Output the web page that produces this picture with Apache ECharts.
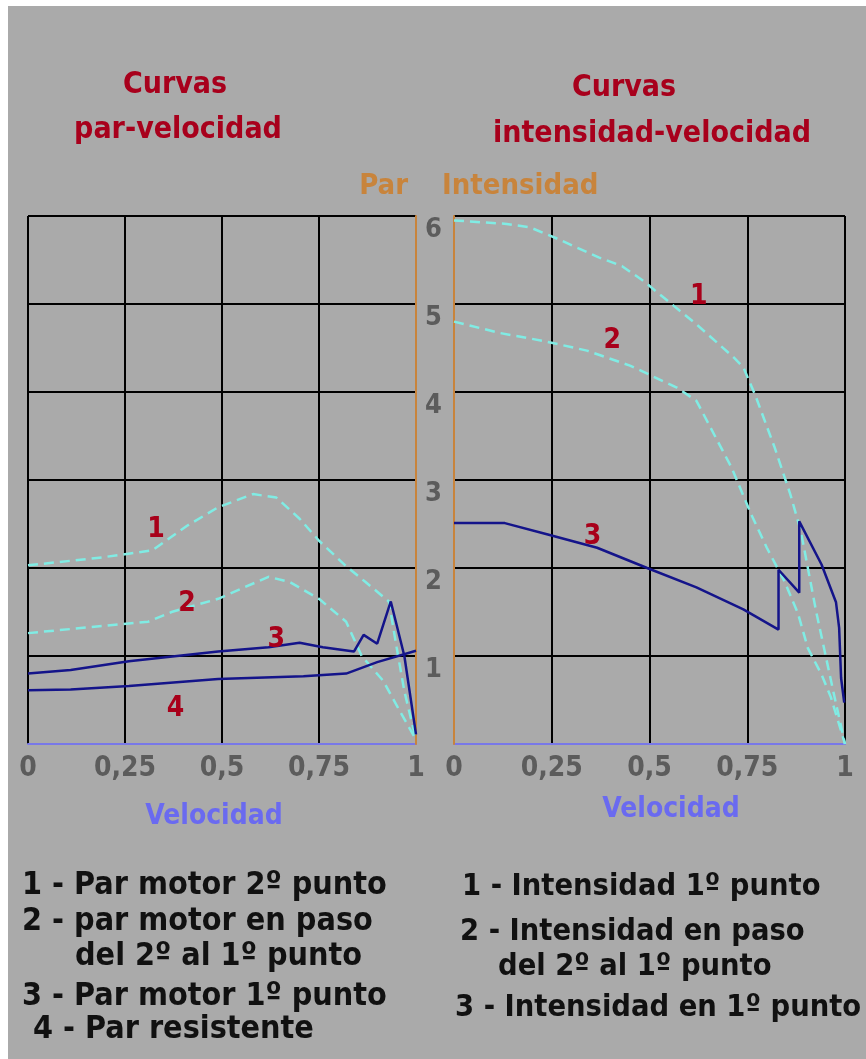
<!DOCTYPE html>
<html>
<head>
<meta charset="utf-8">
<script src="https://cdn.jsdelivr.net/npm/echarts@6/dist/echarts.min.js"></script>
<style>
html,body{margin:0;padding:0;background:#fff;}
#chart{width:866px;height:1059px;}
</style>
</head>
<body>
<div id="chart"></div>
<script>
// ---------- DATA ----------
var xTickLabels = ['0', '0,25', '0,5', '0,75', '1'];
var yTickLabels = ['', '1', '2', '3', '4', '5', '6'];

// Par - velocidad (left panel)
var par1X = [0, 0.19, 0.32, 0.41, 0.49, 0.58, 0.64, 0.70, 0.75, 0.82, 0.87, 0.93, 0.95, 0.97, 1.0];
var par1Y = [2.03, 2.12, 2.20, 2.48, 2.69, 2.84, 2.80, 2.56, 2.31, 2.02, 1.84, 1.62, 1.10, 0.60, 0.05];
var par2X = [0, 0.19, 0.31, 0.37, 0.49, 0.62, 0.675, 0.75, 0.82, 0.86, 0.915, 0.96, 1.0];
var par2Y = [1.26, 1.34, 1.39, 1.50, 1.65, 1.90, 1.84, 1.65, 1.39, 1.00, 0.72, 0.36, 0.05];
var par3X = [0, 0.11, 0.26, 0.49, 0.62, 0.70, 0.76, 0.84, 0.865, 0.90, 0.935, 0.97, 1.0];
var par3Y = [0.80, 0.84, 0.94, 1.05, 1.10, 1.15, 1.10, 1.05, 1.24, 1.14, 1.62, 1.00, 0.11];
var par4X = [0, 0.11, 0.26, 0.49, 0.71, 0.82, 0.90, 1.0];
var par4Y = [0.61, 0.62, 0.66, 0.74, 0.77, 0.80, 0.93, 1.06];

// Intensidad - velocidad (right panel)
var int1X = [0, 0.135, 0.195, 0.26, 0.37, 0.43, 0.485, 0.537, 0.62, 0.716, 0.74, 0.77, 0.82, 0.86, 0.887, 0.926, 0.97, 1.0];
var int1Y = [5.95, 5.91, 5.87, 5.75, 5.53, 5.43, 5.26, 5.07, 4.77, 4.39, 4.28, 3.97, 3.37, 2.84, 2.42, 1.51, 0.60, 0.0];
var int2X = [0, 0.118, 0.229, 0.34, 0.45, 0.57, 0.62, 0.665, 0.71, 0.76, 0.80, 0.845, 0.88, 0.905, 0.94, 0.964, 1.0];
var int2Y = [4.80, 4.67, 4.58, 4.47, 4.30, 4.05, 3.90, 3.52, 3.14, 2.61, 2.23, 1.85, 1.48, 1.09, 0.79, 0.53, 0.0];
var int3X = [0, 0.13, 0.24, 0.366, 0.494, 0.62, 0.74, 0.83, 0.83, 0.883, 0.883, 0.94, 0.977, 0.985, 0.99, 0.998];
var int3Y = [2.51, 2.51, 2.38, 2.23, 2.00, 1.78, 1.53, 1.30, 1.98, 1.72, 2.53, 2.04, 1.61, 1.32, 0.75, 0.47];

// curve number annotations [x, y, text]
var parNotes = [[0.33, 2.44, '1'], [0.41, 1.59, '2'], [0.64, 1.19, '3'], [0.38, 0.40, '4']];
var intNotes = [[0.626, 5.08, '1'], [0.405, 4.58, '2'], [0.354, 2.36, '3']];

var titlesLeft = ['Curvas', 'par-velocidad'];
var titlesRight = ['Curvas', 'intensidad-velocidad'];
var legendLeft = ['1 - Par motor 2º punto', '2 - par motor en paso', 'del 2º al 1º punto', '3 - Par motor 1º punto', '4 - Par resistente'];
var legendRight = ['1 - Intensidad 1º punto', '2 - Intensidad en paso', 'del 2º al 1º punto', '3 - Intensidad en 1º punto'];
var xName = 'Velocidad';
var yNameLeft = 'Par';
var yNameRight = 'Intensidad';

// ---------- CHART ----------
function zip(xs, ys) { return xs.map(function (x, i) { return [x, ys[i]]; }); }
var FONT = '"DejaVu Sans Condensed", "DejaVu Sans", sans-serif';
var BG = '#aaaaaa';
var CYAN = '#80ece4';
var NAVY = '#14148a';
var ORANGE = '#c8843c';
var RED = '#a8001c';
var BLUE = '#6a6af0';
var GREY = '#5c5c5c';

function xAxisCfg(gi, showMin, showMax) {
  return {
    type: 'value', gridIndex: gi, min: 0, max: 1, interval: 0.25,
    axisLine: { show: true, onZero: false, lineStyle: { color: '#7878e8', width: 2 } },
    axisTick: { show: false },
    splitLine: { show: true, showMinLine: showMin, showMaxLine: showMax, lineStyle: { color: '#000', width: 2 } },
    axisLabel: {
      margin: 11, color: GREY, fontFamily: FONT, fontWeight: 'bold', fontSize: 28,
      formatter: function (v, i) { return xTickLabels[Math.round(v / 0.25)]; }
    },
    z: 1
  };
}
function yAxisCfg(gi, pos, showLabels, name, nameAlign, namePad) {
  return {
    type: 'value', gridIndex: gi, position: pos, min: 0, max: 6, interval: 1,
    axisLine: { show: true, onZero: false, lineStyle: { color: ORANGE, width: 2 } },
    axisTick: { show: false },
    splitLine: { show: true, showMinLine: false, lineStyle: { color: '#000', width: 2 } },
    axisLabel: {
      show: showLabels, margin: 12, color: GREY, fontFamily: FONT, fontWeight: 'bold', fontSize: 27,
      verticalAlign: 'top',
      formatter: function (v) { return yTickLabels[Math.round(v)]; }
    },
    name: name, nameLocation: 'end', nameGap: 30,
    nameTextStyle: { color: ORANGE, fontFamily: FONT, fontWeight: 'bold', fontSize: 29, align: nameAlign, verticalAlign: 'middle', padding: namePad },
    z: 2
  };
}
function lineSeries(xi, data, color, dashed) {
  return {
    type: 'line', xAxisIndex: xi, yAxisIndex: xi, data: data, showSymbol: false, symbol: 'none',
    lineStyle: { color: color, width: 2.5, type: dashed ? [10, 6] : 'solid' }, z: 5, silent: true, animation: false
  };
}
function noteSeries(xi, notes) {
  return {
    type: 'scatter', xAxisIndex: xi, yAxisIndex: xi, symbolSize: 1, itemStyle: { color: 'rgba(0,0,0,0)' },
    data: notes.map(function (n) { return { value: [n[0], n[1]], name: n[2] }; }),
    label: { show: true, position: 'inside', formatter: '{b}', color: '#a8001a', opacity: 1, textBorderWidth: 0, fontFamily: FONT, fontWeight: 'bold', fontSize: 28 },
    z: 6, silent: true, animation: false
  };
}

var graphics = [
  { type: 'rect', shape: { x: 0, y: 0, width: 866, height: 6 }, style: { fill: '#fff' } },
  { type: 'rect', shape: { x: 0, y: 0, width: 8, height: 1059 }, style: { fill: '#fff' } }
];
function txt(t, x, y, color, size, align) {
  graphics.push({
    type: 'text', x: x, y: y, silent: true,
    style: { text: t, fill: color, font: 'bold ' + size + 'px ' + FONT, textAlign: align, align: align, textVerticalAlign: 'middle', verticalAlign: 'middle' }
  });
}
txt(titlesLeft[0], 175, 85, RED, 30, 'center');
txt(titlesLeft[1], 178, 130, RED, 30, 'center');
txt(titlesRight[0], 624, 88, RED, 30, 'center');
txt(titlesRight[1], 652, 134, RED, 30, 'center');
txt(xName, 214, 817, BLUE, 28, 'center');
txt(xName, 671, 810, BLUE, 28, 'center');
var lyL = [886, 922, 957, 997, 1030], lxL = [22, 22, 75, 22, 33];
legendLeft.forEach(function (t, i) { txt(t, lxL[i], lyL[i], '#111', 32, 'left'); });
var lyR = [887, 932, 967, 1008], lxR = [462, 460, 498, 455];
legendRight.forEach(function (t, i) { txt(t, lxR[i], lyR[i], '#111', 30.5, 'left'); });

var chart = echarts.init(document.getElementById('chart'), null, { renderer: 'canvas' });
chart.setOption({
  backgroundColor: BG,
  animation: false,
  grid: [
    { left: 28, right: 450, top: 216, bottom: 315, containLabel: false, outerBoundsMode: 'none' },
    { left: 454, right: 21, top: 216, bottom: 315, containLabel: false, outerBoundsMode: 'none' }
  ],
  xAxis: [xAxisCfg(0, true, false), xAxisCfg(1, false, true)],
  yAxis: [
    yAxisCfg(0, 'right', false, yNameLeft, 'right', [0, 8, 0, 0]),
    yAxisCfg(1, 'left', true, yNameRight, 'left', [0, 0, 0, -12])
  ],
  series: [
    lineSeries(0, zip(par1X, par1Y), CYAN, true),
    lineSeries(0, zip(par2X, par2Y), CYAN, true),
    lineSeries(0, zip(par3X, par3Y), NAVY, false),
    lineSeries(0, zip(par4X, par4Y), NAVY, false),
    noteSeries(0, parNotes),
    lineSeries(1, zip(int1X, int1Y), CYAN, true),
    lineSeries(1, zip(int2X, int2Y), CYAN, true),
    lineSeries(1, zip(int3X, int3Y), NAVY, false),
    noteSeries(1, intNotes)
  ],
  graphic: graphics
});
</script>
</body>
</html>
